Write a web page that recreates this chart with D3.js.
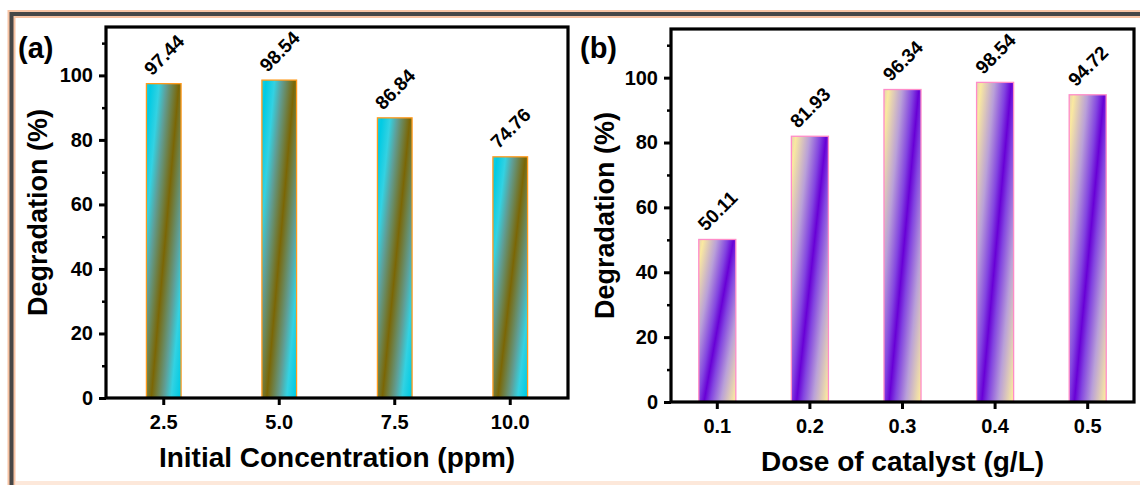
<!DOCTYPE html>
<html><head><meta charset="utf-8">
<script src="https://cdn.jsdelivr.net/npm/d3@7"></script>
<style>
body{margin:0;background:#fff}
svg{display:block}
text{font-family:"Liberation Sans",Arial,Helvetica,sans-serif;font-weight:bold;fill:#000}
</style>
</head><body>
<svg id="c" width="1140" height="485"></svg>
<script>
// ---- data ----
const concCategories = ["2.5", "5.0", "7.5", "10.0"];
const concValues = [97.44, 98.54, 86.84, 74.76];
const doseCategories = ["0.1", "0.2", "0.3", "0.4", "0.5"];
const doseValues = [50.11, 81.93, 96.34, 98.54, 94.72];
const yTickValues = [0, 20, 40, 60, 80, 100];
const yMinorTickValues = [10, 30, 50, 70, 90, 110];
const yDomain = [0, 115];

const svg = d3.select("#c");
const defs = svg.append("defs");

// gradients (bbox-relative, reflected diagonal stripes)
function makeGrad(id, stops) {
  const g = defs.append("linearGradient").attr("id", id)
    .attr("gradientUnits", "objectBoundingBox")
    .attr("x1", 0.12).attr("y1", 0).attr("x2", 0.62).attr("y2", 0.40)
    .attr("spreadMethod", "reflect");
  stops.forEach(s => g.append("stop").attr("offset", s[0]).attr("stop-color", s[1]));
}
makeGrad("gradA", [[0, "#00cbe4"], [0.3, "#33d2e2"], [0.55, "#5f9f98"], [1, "#7b6604"]]);
makeGrad("gradB", [[0, "#fae9a0"], [0.45, "#b9a0d8"], [0.8, "#8244e0"], [1, "#6800d6"]]);

// outer frame
svg.append("rect").attr("x", 11.5).attr("y", 14).attr("width", 1300).attr("height", 700)
  .attr("fill", "none").attr("stroke", "#f8c4a4").attr("stroke-width", 8);
svg.append("rect").attr("x", 11.5).attr("y", 14).attr("width", 1300).attr("height", 700)
  .attr("fill", "none").attr("stroke", "#474747").attr("stroke-width", 4);
svg.append("rect").attr("x", 16).attr("y", 481).attr("width", 1124).attr("height", 4)
  .attr("fill", "#fde8da");

const panels = [
  {letter: "(a)", cats: concCategories, vals: concValues, l: 106, r: 568, t: 27, b: 398,
   pi: 0.7, po: 0.35, grad: "gradA", stroke: "#ff9a1c",
   xTitle: "Initial Concentration (ppm)", letterX: 18, yTitleX: 47, xTitleY: 467},
  {letter: "(b)", cats: doseCategories, vals: doseValues, l: 671, r: 1134, t: 29, b: 402,
   pi: 0.6, po: 0.3, grad: "gradB", stroke: "#ff8cc8",
   xTitle: "Dose of catalyst (g/L)", letterX: 580, yTitleX: 614, xTitleY: 471}
];

panels.forEach(p => {
  const x = d3.scaleBand().domain(p.cats).range([p.l, p.r]).paddingInner(p.pi).paddingOuter(p.po);
  const y = d3.scaleLinear().domain(yDomain).range([p.b, p.t]);
  const g = svg.append("g");

  g.selectAll("rect.bar").data(p.cats.map((c, i) => ({c, v: p.vals[i]})))
    .join("rect").attr("class", "bar")
    .attr("x", d => x(d.c)).attr("y", d => y(d.v))
    .attr("width", x.bandwidth()).attr("height", d => y(0) - y(d.v))
    .attr("fill", `url(#${p.grad})`).attr("stroke", p.stroke).attr("stroke-width", 1.3);

  g.selectAll("text.val").data(p.cats.map((c, i) => ({c, v: p.vals[i]})))
    .join("text").attr("class", "val")
    .attr("transform", d => `translate(${x(d.c) + x.bandwidth() / 2 + 5},${y(d.v) - 24}) rotate(-45)`)
    .attr("text-anchor", "middle").attr("font-size", 19)
    .text(d => d.v.toFixed(2));

  // y axis
  const ya = g.append("g").attr("transform", `translate(${p.l},0)`)
    .call(d3.axisLeft(y).tickValues(yTickValues).tickSize(7).tickPadding(6).tickFormat(d3.format("d")));
  ya.select(".domain").remove();
  ya.selectAll(".tick line").attr("stroke-width", 3);
  ya.selectAll(".tick text").attr("font-size", 20).style("font-family", "'Liberation Sans',Arial,sans-serif").style("font-weight", "bold");
  const ym = g.append("g").attr("transform", `translate(${p.l},0)`)
    .call(d3.axisLeft(y).tickValues(yMinorTickValues).tickSize(4).tickFormat(""));
  ym.select(".domain").remove();
  ym.selectAll(".tick line").attr("stroke-width", 2.5);

  // x axis
  const xa = g.append("g").attr("transform", `translate(0,${p.b})`)
    .call(d3.axisBottom(x).tickSize(7).tickPadding(10));
  xa.select(".domain").remove();
  xa.selectAll(".tick line").attr("stroke-width", 3);
  xa.selectAll(".tick text").attr("font-size", 20).style("font-family", "'Liberation Sans',Arial,sans-serif").style("font-weight", "bold");

  // frame
  g.append("rect").attr("x", p.l).attr("y", p.t).attr("width", p.r - p.l).attr("height", p.b - p.t)
    .attr("fill", "none").attr("stroke", "#000").attr("stroke-width", 3.2);

  // titles
  g.append("text").attr("x", p.letterX).attr("y", 58).attr("font-size", 29).text(p.letter);
  g.append("text").attr("transform", `translate(${p.yTitleX},${(p.t + p.b) / 2}) rotate(-90)`)
    .attr("text-anchor", "middle").attr("font-size", 27).text("Degradation (%)");
  g.append("text").attr("x", (p.l + p.r) / 2).attr("y", p.xTitleY)
    .attr("text-anchor", "middle").attr("font-size", 28).text(p.xTitle);
});
</script>
</body></html>
